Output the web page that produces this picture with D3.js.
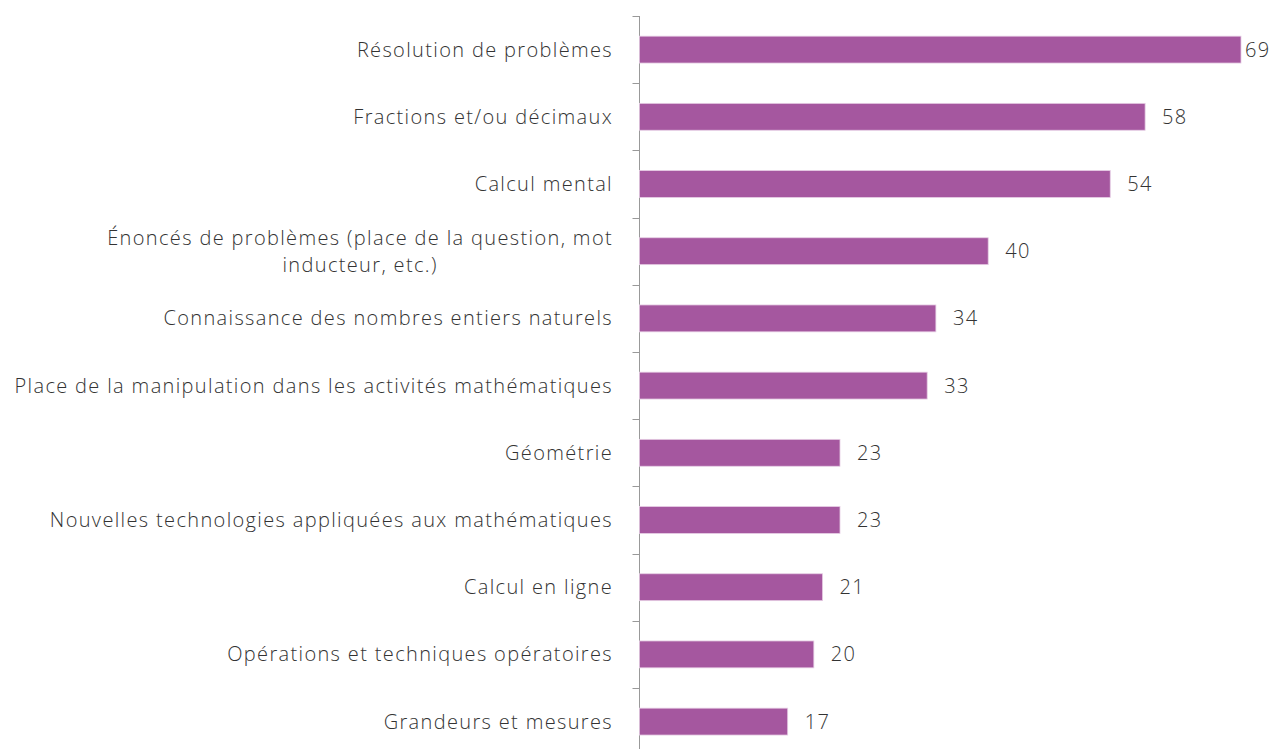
<!DOCTYPE html>
<html>
<head>
<meta charset="utf-8">
<script src="https://cdn.jsdelivr.net/npm/d3@7"></script>
<style>
  body { margin: 0; background: #fff; }
  text { font-family: "Open Sans", sans-serif; font-weight: 300; fill: #333; letter-spacing: 1.35px; }
</style>
</head>
<body>
<svg id="chart" width="1273" height="749"></svg>
<script>
// categories, top to bottom
var categories = [
    "Résolution de problèmes",
    "Fractions et/ou décimaux",
    "Calcul mental",
    "Énoncés de problèmes (place de la question, mot|inducteur, etc.)",
    "Connaissance des nombres entiers naturels",
    "Place de la manipulation dans les activités mathématiques",
    "Géométrie",
    "Nouvelles technologies appliquées aux mathématiques",
    "Calcul en ligne",
    "Opérations et techniques opératoires",
    "Grandeurs et mesures"
];
var values = [69, 58, 54, 40, 34, 33, 23, 23, 21, 20, 17];

var axisX = 639.5,
    fontSize = 20,
    barColor = "#a5579f";

var svg = d3.select("#chart");

var y = d3.scaleBand()
    .domain(categories)
    .range([16, 16 + 11 * 67.2])
    .paddingInner(0.6)
    .paddingOuter(0.3);

var x = d3.scaleLinear()
    .domain([0, 69])
    .range([axisX, 1241]);

// axis line
var gAxis = svg.append("g")
    .attr("transform", "translate(" + axisX + ",0)")
    .call(d3.axisLeft(y).tickSize(0).tickFormat(""));
gAxis.select(".domain").attr("stroke", "#999").attr("stroke-width", 1)
    .attr("d", "M0," + y.range()[0] + "V" + y.range()[1]);

// ticks at band boundaries
var step = y.step();
var bounds = d3.range(categories.length).map(i => y.range()[0] + i * step);
svg.append("g").selectAll("line")
    .data(bounds)
    .enter().append("line")
    .attr("x1", axisX - 7).attr("x2", axisX)
    .attr("y1", d => Math.round(d) + 0.5).attr("y2", d => Math.round(d) + 0.5)
    .style("stroke", "#999")
    .style("stroke-width", 1);

// bars
svg.append("g").selectAll("rect")
    .data(values)
    .enter().append("rect")
    .attr("x", x(0))
    .attr("y", (d, i) => y(categories[i]))
    .attr("width", d => x(d) - x(0))
    .attr("height", y.bandwidth())
    .style("fill", barColor)
    .style("stroke", "#e6cde4")
    .style("stroke-width", 0.8);

// value labels
svg.append("g").selectAll("text")
    .data(values)
    .enter().append("text")
    .attr("x", d => Math.min(x(d) + 17, 1245))
    .attr("y", (d, i) => y(categories[i]) + y.bandwidth() / 2)
    .attr("dy", "0.35em")
    .style("font-size", fontSize + "px")
    .text(d => d);

// category labels (| = line break, wrapped line centered under the first)
var labels = svg.append("g").selectAll("text")
    .data(categories)
    .enter().append("text")
    .attr("y", d => y(d) + y.bandwidth() / 2)
    .style("font-size", fontSize + "px");

labels.each(function (d) {
    var parts = d.split("|");
    var t = d3.select(this);
    if (parts.length === 1) {
        t.attr("x", 613).attr("text-anchor", "end").attr("dy", "0.35em").text(d);
    } else {
        var first = t.append("tspan").attr("x", 613).attr("text-anchor", "end")
            .attr("dy", "-0.3em").text(parts[0]);
        var w = first.node().getComputedTextLength();
        t.append("tspan").attr("x", 613 - w / 2).attr("text-anchor", "middle")
            .attr("dy", "1.35em").text(parts[1]);
    }
});
</script>
</body>
</html>
